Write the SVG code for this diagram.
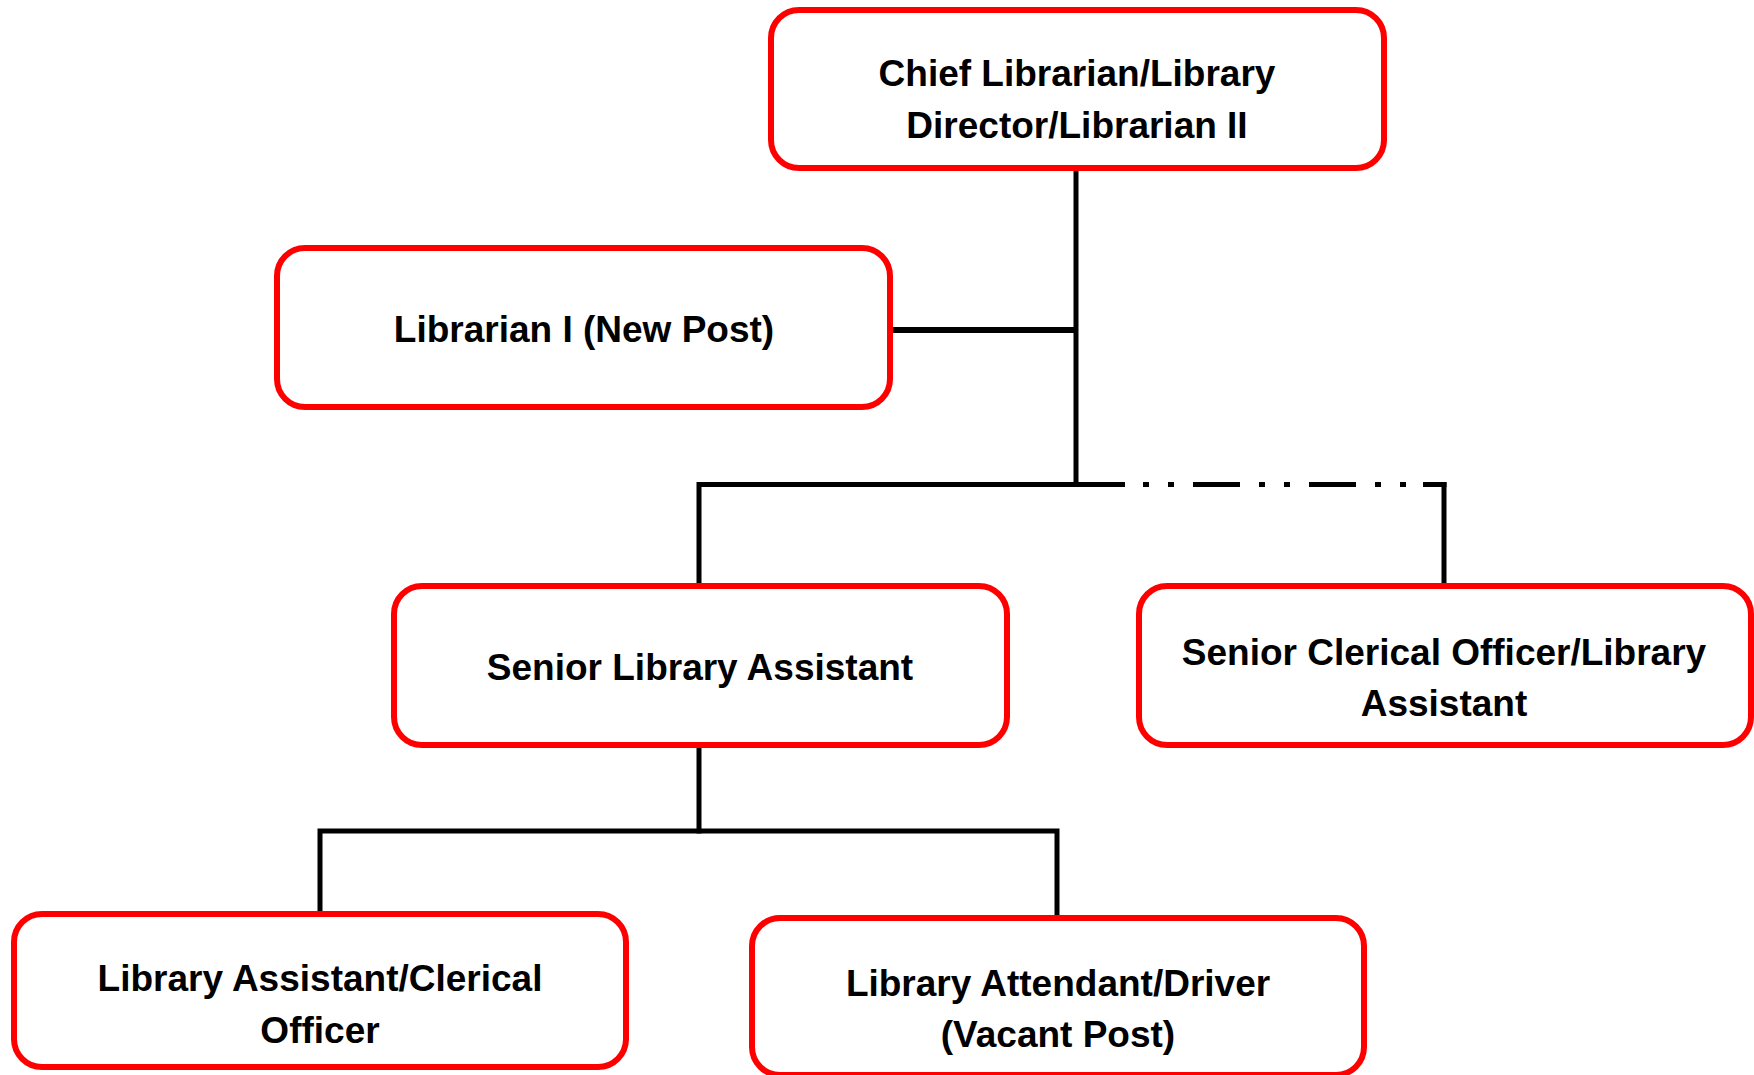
<svg xmlns="http://www.w3.org/2000/svg" width="1754" height="1075" viewBox="0 0 1754 1075">
<style>
.box{fill:#fff;stroke:#ff0000;stroke-width:6}
.t{font-family:"Liberation Sans",Arial,sans-serif;font-weight:bold;font-size:37px;fill:#000;text-anchor:middle}
.c{stroke:#000;stroke-width:5;fill:none;stroke-linecap:square}
</style>
<defs>
<filter id="blur" x="-10%" y="-200%" width="120%" height="500%"><feGaussianBlur stdDeviation="2.5"/></filter>
</defs>
<rect width="1754" height="1075" fill="#fff"/>
<g id="connectors">
<line x1="893" y1="337" x2="1074" y2="337" stroke="#888" stroke-width="6" filter="url(#blur)"/>
<line class="c" x1="1076" y1="168" x2="1076" y2="484"/>
<line class="c" x1="892" y1="330" x2="1076" y2="330" style="stroke-width:6;stroke-linecap:butt"/>
<line class="c" x1="699" y1="484.5" x2="1125" y2="484.5" style="stroke-linecap:butt"/>
<line class="c" x1="1143" y1="484.5" x2="1446.5" y2="484.5" style="stroke-linecap:butt;stroke-dasharray:6 19 6 19 47 19"/>
<polyline class="c" points="1423,484.5 1444,484.5 1444,586" style="stroke-linecap:butt"/>
<polyline class="c" points="699,586 699,484.5 710,484.5" style="stroke-linecap:butt"/>
<line class="c" x1="699" y1="745" x2="699" y2="831"/>
<polyline class="c" points="320,914 320,831 1057,831 1057,918" style="stroke-linecap:butt;stroke-linejoin:miter"/>
</g>
<g id="chief">
<rect class="box" x="771" y="10" width="613" height="158" rx="28"/>
<text class="t" x="1077" y="86">Chief Librarian/Library</text>
<text class="t" x="1077" y="138">Director/Librarian II</text>
</g>
<g id="librarian1">
<rect class="box" x="277" y="248" width="613" height="159" rx="28"/>
<text class="t" x="584" y="342">Librarian I (New Post)</text>
</g>
<g id="senior-library-assistant">
<rect class="box" x="394" y="586" width="613" height="159" rx="28"/>
<text class="t" x="700" y="680">Senior Library Assistant</text>
</g>
<g id="senior-clerical-officer">
<rect class="box" x="1139" y="586" width="612" height="159" rx="28"/>
<text class="t" x="1444" y="665">Senior Clerical Officer/Library</text>
<text class="t" x="1444" y="716">Assistant</text>
</g>
<g id="library-assistant">
<rect class="box" x="14" y="914" width="612" height="153" rx="28"/>
<text class="t" x="320" y="991">Library Assistant/Clerical</text>
<text class="t" x="320" y="1043">Officer</text>
</g>
<g id="library-attendant">
<rect class="box" x="752" y="918" width="612" height="157" rx="28"/>
<text class="t" x="1058" y="996">Library Attendant/Driver</text>
<text class="t" x="1058" y="1047">(Vacant Post)</text>
</g>
</svg>
